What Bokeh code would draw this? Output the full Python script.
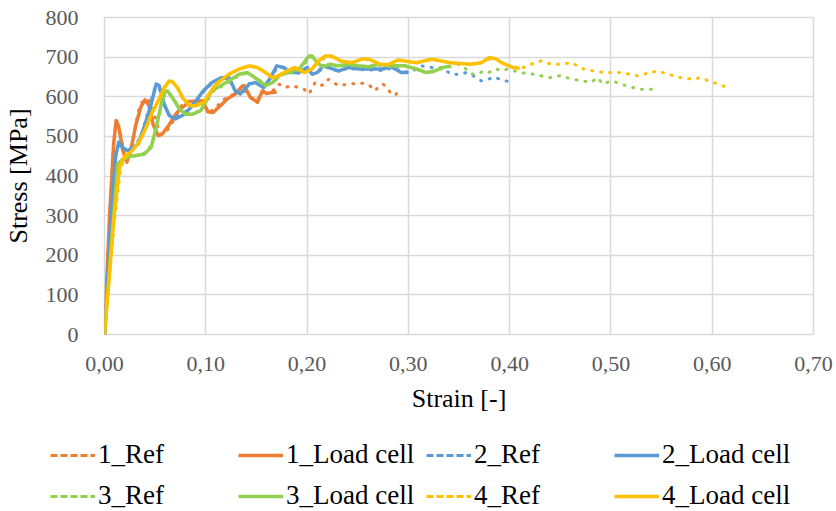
from bokeh.plotting import figure
from bokeh.layouts import column
from bokeh.models import Legend, LegendItem, FixedTicker, CustomJSTickFormatter
from bokeh.embed import file_html
from bokeh.resources import INLINE

# ---------------- data ----------------
lc1_x = [0, 0.005, 0.009, 0.0115, 0.014, 0.018, 0.022, 0.026, 0.031, 0.036, 0.040, 0.044, 0.048,
         0.053, 0.057, 0.064, 0.070, 0.074, 0.084, 0.097, 0.102, 0.107, 0.116, 0.121, 0.129, 0.136,
         0.138, 0.144, 0.149, 0.151, 0.156, 0.160, 0.166, 0.170]
lc1_y = [0, 300, 480, 540, 525, 465, 435, 465, 530, 575, 592, 578, 530,
         502, 506, 530, 555, 567, 588, 590, 562, 560, 581, 594, 607, 627,
         628, 598, 590, 586, 615, 608, 611, 612]

ref1_x = [0, 0.005, 0.009, 0.012, 0.016, 0.020, 0.025, 0.030, 0.035, 0.040, 0.045, 0.050, 0.055,
          0.060, 0.065, 0.070, 0.076, 0.082, 0.090, 0.098, 0.104, 0.110, 0.116, 0.122, 0.129,
          0.136, 0.143, 0.150, 0.156, 0.162, 0.168, 0.172, 0.178, 0.185, 0.192, 0.197, 0.202,
          0.205, 0.208, 0.213, 0.218, 0.221, 0.226, 0.231, 0.241, 0.251, 0.257, 0.262, 0.267,
          0.272, 0.275, 0.279, 0.282, 0.287, 0.289, 0.293]
ref1_y = [0, 290, 490, 535, 505, 450, 455, 520, 580, 595, 588, 548, 505,
          510, 525, 550, 578, 588, 590, 575, 562, 572, 590, 600, 608,
          625, 602, 590, 610, 612, 618, 632, 623, 628, 623, 619, 607,
          623, 636, 628, 632, 644, 636, 628, 632, 634, 634, 628, 615,
          628, 632, 623, 611, 603, 611, 611]

lc2_x = [0, 0.0065, 0.011, 0.0140, 0.018, 0.023, 0.028, 0.033, 0.039, 0.046, 0.051, 0.054, 0.059,
         0.064, 0.070, 0.079, 0.088, 0.097, 0.106, 0.115, 0.123, 0.129, 0.134, 0.143, 0.149,
         0.157, 0.164, 0.170, 0.177, 0.183, 0.192, 0.200, 0.205, 0.210, 0.216, 0.221, 0.231,
         0.241, 0.251, 0.261, 0.275, 0.283, 0.293, 0.300]
lc2_y = [0, 300, 450, 485, 472, 464, 472, 480, 522, 581, 632, 628, 581,
         552, 544, 556, 581, 613, 636, 648, 648, 615, 607, 632, 636,
         623, 648, 678, 674, 661, 661, 674, 657, 661, 678, 674, 665,
         674, 670, 670, 670, 676, 661, 661]

ref2_x = [0, 0.007, 0.011, 0.014, 0.019, 0.024, 0.030, 0.036, 0.041, 0.046, 0.050, 0.054, 0.058,
          0.063, 0.069, 0.078, 0.088, 0.097, 0.106, 0.115, 0.123, 0.130, 0.136, 0.143, 0.150,
          0.158, 0.165, 0.171, 0.178, 0.184, 0.192, 0.200, 0.206, 0.211, 0.217, 0.222, 0.231,
          0.241, 0.251, 0.261, 0.275, 0.283, 0.294, 0.301, 0.308, 0.313, 0.323, 0.333, 0.342,
          0.352, 0.357, 0.364, 0.372, 0.379, 0.385, 0.392, 0.398, 0.403]
ref2_y = [0, 300, 445, 478, 468, 462, 475, 500, 545, 590, 625, 622, 585,
          556, 548, 558, 583, 611, 634, 646, 646, 612, 610, 634, 634,
          625, 650, 676, 672, 660, 660, 672, 656, 662, 676, 672, 665,
          672, 668, 668, 666, 672, 665, 661, 670, 678, 674, 674, 657,
          657, 661, 653, 640, 644, 650, 642, 639, 627]

lc3_x = [0, 0.009, 0.013, 0.020, 0.029, 0.039, 0.046, 0.051, 0.056, 0.059, 0.062, 0.067, 0.074,
         0.080, 0.087, 0.095, 0.106, 0.120, 0.133, 0.141, 0.151, 0.159, 0.166, 0.174, 0.182,
         0.192, 0.197, 0.202, 0.205, 0.210, 0.215, 0.223, 0.231, 0.241, 0.251, 0.261, 0.270,
         0.283, 0.297, 0.308, 0.318, 0.326, 0.334, 0.342]
lc3_y = [0, 300, 430, 447, 451, 455, 472, 522, 581, 611, 615, 598, 569,
         556, 556, 565, 615, 636, 657, 661, 644, 628, 636, 657, 661,
         670, 686, 703, 703, 686, 676, 682, 678, 682, 678, 676, 682,
         678, 678, 670, 661, 665, 674, 678]

ref3_x = [0, 0.009, 0.014, 0.021, 0.030, 0.040, 0.047, 0.052, 0.057, 0.060, 0.063, 0.068, 0.075,
          0.081, 0.088, 0.096, 0.107, 0.121, 0.134, 0.142, 0.152, 0.160, 0.167, 0.175, 0.183,
          0.193, 0.198, 0.203, 0.206, 0.211, 0.216, 0.224, 0.232, 0.242, 0.252, 0.262, 0.271,
          0.284, 0.298, 0.309, 0.318, 0.326, 0.334, 0.342, 0.349, 0.354, 0.360, 0.364, 0.369,
          0.374, 0.379, 0.382, 0.387, 0.392, 0.398, 0.405, 0.411, 0.423, 0.431, 0.440, 0.449,
          0.461, 0.472, 0.480, 0.487, 0.492, 0.500, 0.506, 0.516, 0.528, 0.542]
ref3_y = [0, 290, 428, 445, 450, 458, 480, 530, 585, 608, 612, 595, 568,
          558, 558, 567, 613, 634, 655, 660, 643, 630, 637, 655, 660,
          668, 684, 700, 700, 685, 677, 680, 676, 680, 676, 675, 680,
          676, 676, 668, 660, 664, 672, 676, 682, 678, 661, 657, 657,
          665, 661, 665, 670, 665, 670, 665, 661, 657, 653, 648, 653,
          645, 640, 636, 648, 632, 640, 636, 627, 619, 619]

lc4_x = [0, 0.0095, 0.015, 0.020, 0.026, 0.034, 0.041, 0.047, 0.054, 0.059, 0.064, 0.067, 0.072,
         0.077, 0.084, 0.090, 0.098, 0.110, 0.123, 0.133, 0.143, 0.151, 0.159, 0.166, 0.172,
         0.180, 0.188, 0.197, 0.205, 0.211, 0.218, 0.224, 0.234, 0.244, 0.254, 0.261, 0.272,
         0.280, 0.290, 0.300, 0.308, 0.323, 0.342, 0.362, 0.372, 0.380, 0.387, 0.392, 0.403,
         0.410]
lc4_y = [0, 300, 425, 450, 460, 485, 522, 560, 594, 623, 640, 638, 623,
         598, 577, 577, 586, 632, 657, 670, 678, 674, 661, 648, 653,
         665, 674, 661, 670, 690, 703, 703, 690, 686, 695, 695, 682,
         681, 693, 689, 686, 695, 686, 682, 686, 699, 695, 686, 674,
         672]

ref4_x = [0, 0.010, 0.016, 0.021, 0.027, 0.035, 0.042, 0.048, 0.055, 0.060, 0.065, 0.068, 0.073,
          0.078, 0.085, 0.091, 0.099, 0.111, 0.124, 0.134, 0.144, 0.152, 0.160, 0.167, 0.173,
          0.181, 0.189, 0.198, 0.206, 0.212, 0.219, 0.225, 0.235, 0.245, 0.255, 0.262, 0.273,
          0.281, 0.291, 0.301, 0.309, 0.324, 0.343, 0.363, 0.373, 0.381, 0.388, 0.393, 0.404,
          0.411, 0.419, 0.424, 0.431, 0.441, 0.451, 0.461, 0.473, 0.483, 0.495, 0.510, 0.526,
          0.539, 0.546, 0.556, 0.569, 0.582, 0.588, 0.601, 0.611, 0.619]
ref4_y = [0, 290, 420, 448, 462, 490, 528, 566, 600, 627, 640, 636, 620,
          596, 578, 579, 590, 634, 658, 671, 677, 672, 660, 649, 654,
          666, 673, 662, 672, 690, 700, 700, 688, 687, 694, 693, 682,
          682, 692, 688, 686, 693, 685, 683, 687, 696, 693, 685, 675,
          672, 678, 686, 690, 682, 682, 686, 670, 665, 661, 661, 653,
          661, 665, 657, 648, 644, 648, 636, 627, 622]

series_names = ["1_Ref", "1_Load cell", "2_Ref", "2_Load cell",
                "3_Ref", "3_Load cell", "4_Ref", "4_Load cell"]
series_colors = ["#ED7D31", "#ED7D31", "#5B9BD5", "#5B9BD5",
                 "#92D050", "#92D050", "#FFC000", "#FFC000"]
series_x = [ref1_x, lc1_x, ref2_x, lc2_x, ref3_x, lc3_x, ref4_x, lc4_x]
series_y = [ref1_y, lc1_y, ref2_y, lc2_y, ref3_y, lc3_y, ref4_y, lc4_y]

x_ticks = [0.0, 0.1, 0.2, 0.3, 0.4, 0.5, 0.6, 0.7]
y_ticks = [0, 100, 200, 300, 400, 500, 600, 700, 800]

FONT = "Liberation Serif"

# ---------------- main chart ----------------
p = figure(width=836, height=430, x_range=(0, 0.7), y_range=(0, 800),
           output_backend="svg", toolbar_location=None,
           min_border_left=102, min_border_right=23, min_border_top=17, min_border_bottom=96)
p.background_fill_color = "white"
p.border_fill_color = "white"
p.outline_line_color = "#D9D9D9"
p.outline_line_width = 1.5

p.xaxis.ticker = FixedTicker(ticks=x_ticks)
p.yaxis.ticker = FixedTicker(ticks=y_ticks)
p.xaxis.formatter = CustomJSTickFormatter(code="return tick.toFixed(2).replace('.', ',');")

for ax in (p.xaxis, p.yaxis):
    ax.axis_line_color = None
    ax.major_tick_line_color = None
    ax.minor_tick_line_color = None
    ax.major_label_text_font = FONT
    ax.major_label_text_font_size = "22px"
    ax.major_label_text_color = "#595959"
    ax.axis_label_text_font = FONT
    ax.axis_label_text_font_size = "26px"
    ax.axis_label_text_font_style = "normal"
    ax.axis_label_text_color = "#000000"

p.xaxis.axis_label = "Strain [-]"
p.yaxis.axis_label = "Stress [MPa]"
p.xaxis.major_label_standoff = 16
p.yaxis.major_label_standoff = 20
p.xaxis.axis_label_standoff = 10
p.yaxis.axis_label_standoff = 10

p.xgrid.grid_line_color = "#D9D9D9"
p.ygrid.grid_line_color = "#D9D9D9"
p.xgrid.grid_line_width = 1.5
p.ygrid.grid_line_width = 1.5

# ---------------- legend strip (series drawn out of view, used as legend glyphs) ----------------
lg = figure(frame_width=836, frame_height=81, x_range=(0, 0.7), y_range=(-2000, -1000),
            output_backend="svg", toolbar_location=None,
            x_axis_type=None, y_axis_type=None,
            min_border_left=0, min_border_right=0, min_border_top=0, min_border_bottom=0)
if "frame_align" in lg.properties():
    lg.frame_align = False
    p.frame_align = False
lg.outline_line_color = None
lg.background_fill_color = "white"
lg.border_fill_color = "white"
lg.xgrid.visible = False
lg.ygrid.visible = False

items = []
for name, col, xs, ys in zip(series_names, series_colors, series_x, series_y):
    if name.endswith("Ref"):
        p.line(xs, ys, line_color=col, line_width=3, line_dash="1 8", line_cap="round")
        proxy = lg.line(xs, ys, line_color=col, line_width=3, line_dash="7 3")
    else:
        p.line(xs, ys, line_color=col, line_width=3.5, line_join="round")
        proxy = lg.line(xs, ys, line_color=col, line_width=3.5)
    items.append(LegendItem(label=name, renderers=[proxy]))

legend = Legend(items=items, orientation="horizontal", ncols=4,
                location=(50, 0),
                glyph_width=45, glyph_height=28, label_height=28, label_width=130,
                label_standoff=3, spacing=10, padding=0, margin=0,
                label_text_font=FONT, label_text_font_size="27px",
                label_text_color="#000000",
                border_line_color=None, background_fill_alpha=0)
lg.add_layout(legend, "center")

layout = column(p, lg, spacing=0)
open("out.html", "w").write(file_html(layout, INLINE))
